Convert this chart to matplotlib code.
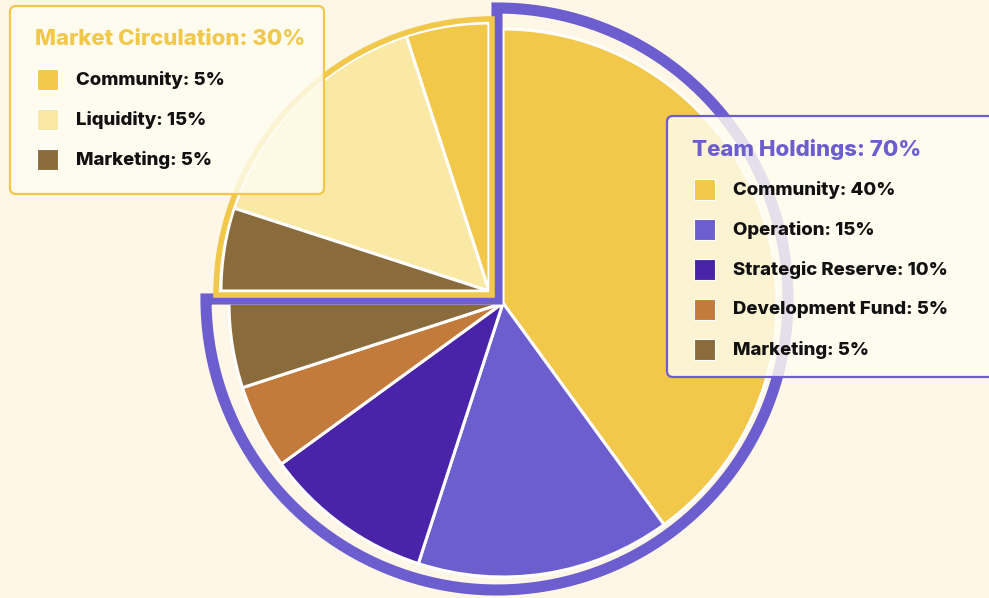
import matplotlib
matplotlib.use("Agg")
import matplotlib.pyplot as plt
from matplotlib.patches import Wedge, FancyBboxPatch, Rectangle
from matplotlib.colors import to_rgba

#######################資料########################
team_labels = ["Community", "Operation", "Strategic Reserve", "Development Fund", "Marketing"]
team_values = [40, 15, 10, 5, 5]
team_colors = ["#F2C84B", "#6C5ECF", "#4A24A8", "#C27B3A", "#8A6B3B"]
team_title = "Team Holdings: 70%"

market_labels = ["Community", "Liquidity", "Marketing"]
market_values = [5, 15, 5]
market_colors = ["#F2C84B", "#FAE8A5", "#8A6B3B"]
market_title = "Market Circulation: 30%"

#######################樣式########################
BG = "#FEF6E6"
PURPLE = "#6C5ECF"
YELLOW = "#F2C84B"
W, H = 989, 598
plt.rcParams["font.family"] = ["Inter", "DejaVu Sans"]


def Y(y):  # 圖片座標 -> 資料座標
    return H - y


fig = plt.figure(figsize=(W / 100, H / 100), dpi=100, facecolor=BG)
ax = fig.add_axes([0, 0, 1, 1])
ax.set_facecolor(BG)

#######################團隊持有########################
team_c = (503, Y(303))
ax.pie([v / 100 for v in team_values], colors=team_colors, startangle=90,
       counterclock=False, normalize=False, radius=274, center=team_c,
       wedgeprops=dict(edgecolor="white", linewidth=2.2, zorder=1))
team_end = 90 - 3.6 * sum(team_values)
ax.add_patch(Wedge((497, Y(299)), 291, team_end, 90, fill=False,
                   edgecolor=PURPLE, linewidth=8, joinstyle="miter", zorder=2))

#######################市場流通########################
market_c = (489, Y(291))
ax.pie([v / 100 for v in market_values], colors=market_colors, startangle=90,
       counterclock=True, normalize=False, radius=268, center=market_c,
       wedgeprops=dict(edgecolor="white", linewidth=2.2, zorder=3))
for w in ax.patches[-len(market_values):]:
    w.set_zorder(3)
market_end = 90 + 3.6 * sum(market_values)
ax.add_patch(Wedge((492, Y(295)), 276, 90, market_end, fill=False,
                   edgecolor=YELLOW, linewidth=4, joinstyle="miter", zorder=4))

#######################圖例########################
def legend_box(x0, y0, w, h, title, tcolor, labels, values, colors, ec):
    ax.add_patch(FancyBboxPatch((x0, Y(y0 + h)), w, h,
                                boxstyle="round,pad=0,rounding_size=6",
                                facecolor=to_rgba("#FFFDF2", 0.82),
                                edgecolor=ec, linewidth=1.6, zorder=10))
    ax.text(x0 + 25, Y(y0 + 33), title, color=tcolor, fontsize=16,
            fontweight="heavy", va="center", ha="left", zorder=11)
    for i, (lab, val, col) in enumerate(zip(labels, values, colors)):
        yc = y0 + 74 + 40 * i
        ax.add_patch(Rectangle((x0 + 27, Y(yc + 10)), 21, 21, facecolor=col,
                               edgecolor="white", linewidth=0.8, zorder=11))
        ax.text(x0 + 66, Y(yc), f"{lab}: {val}%", color="#111111", fontsize=13.4,
                fontweight="heavy", va="center", ha="left", zorder=11)


legend_box(10, 6, 314, 188, market_title, YELLOW,
           market_labels, market_values, market_colors, YELLOW)
legend_box(667, 116, 340, 261, team_title, PURPLE,
           team_labels, team_values, team_colors, PURPLE)

ax.set_xlim(0, W)
ax.set_ylim(0, H)
ax.set_aspect("auto")
ax.axis("off")
fig.savefig("out.png", dpi=100, facecolor=BG)
